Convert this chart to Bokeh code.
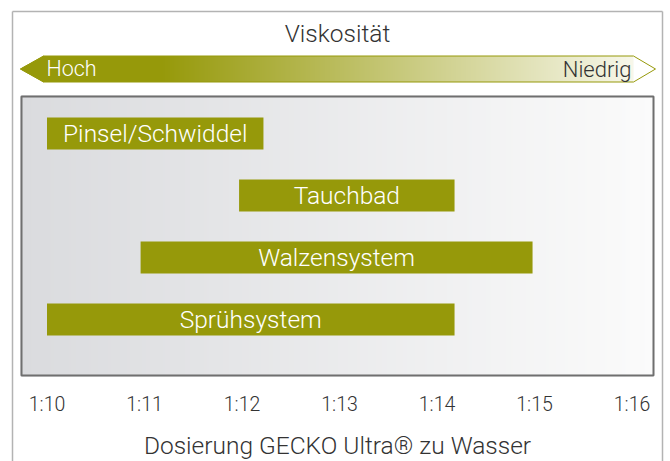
import numpy as np
from bokeh.plotting import figure
from bokeh.models import Range1d
from bokeh.core.properties import value
from bokeh.embed import file_html
from bokeh.resources import INLINE

# ---------------- data ----------------
methods = ["Pinsel/Schwiddel", "Tauchbad", "Walzensystem", "Sprühsystem"]
dose_from = [10.0, 11.97, 10.96, 10.0]
dose_to = [12.22, 14.18, 14.98, 14.18]
rows = [4, 3, 2, 1]
tick_values = [10, 11, 12, 13, 14, 15, 16]
tick_labels = ["1:10", "1:11", "1:12", "1:13", "1:14", "1:15", "1:16"]
scale_title = "Viskosität"
scale_high = "Hoch"
scale_low = "Niedrig"
axis_title = "Dosierung GECKO Ultra® zu Wasser"

# ---------------- style / layout ----------------
OLIVE = "#96990a"
OLIVE_RGB = np.array([150, 153, 10], dtype=float)
PALE_RGB = np.array([247, 247, 234], dtype=float)
FONT = value("'Roboto Light', Roboto")
TXT = "#333333"

W, H = 670, 461
KX = 97.5          # px per ratio unit
X10_PX = 46.5      # pixel of ratio 1:10
KY = 62.0          # px per row
ROW1_PX = 319.0    # pixel (from top) of row 1

X0 = 10 - X10_PX / KX
X1 = X0 + W / KX
Y1 = 1 + ROW1_PX / KY
Y0 = Y1 - H / KY


def cx(px):
    return X0 + px / KX


def cy(py):
    return Y1 - py / KY


p = figure(width=W, height=H, x_range=Range1d(X0, X1), y_range=Range1d(Y0, Y1),
           output_backend="svg", toolbar_location=None,
           x_axis_location=None, y_axis_location=None, min_border=0)
p.grid.visible = False
p.outline_line_color = None
p.background_fill_color = "white"
p.border_fill_color = "white"


def hgrad(c0, c1, n, t0=0.0):
    img = np.empty((1, n), dtype=np.uint32)
    v = img.view(dtype=np.uint8).reshape((1, n, 4))
    t = np.clip((np.linspace(0, 1, n) - t0) / (1 - t0), 0, 1)
    for k in range(3):
        v[0, :, k] = np.round(c0[k] + (c1[k] - c0[k]) * t).astype(np.uint8)
    v[0, :, 3] = 255
    return img


# outer frame
p.segment(x0=[cx(12), cx(12), cx(662)], y0=[cy(11), cy(11), cy(11)],
          x1=[cx(662), cx(12), cx(662)], y1=[cy(11), cy(H + 20), cy(H + 20)],
          line_color="#b3b3b3", line_width=1.5)

# plot area (gray gradient + dark border)
pa_l, pa_r, pa_t, pa_b = 20, 654, 95, 376
p.image_rgba(image=[hgrad(np.array([218, 219, 222.]), np.array([251, 251, 251.]), pa_r - pa_l)],
             x=cx(pa_l), y=cy(pa_b), dw=(pa_r - pa_l) / KX, dh=(pa_b - pa_t) / KY)
p.quad(left=cx(pa_l + 1), right=cx(pa_r - 1), top=cy(pa_t + 1), bottom=cy(pa_b - 1),
       fill_color=None, line_color="#6f6f6f", line_width=2)

# viscosity arrow
a_l, a_r, a_t, a_b = 43, 633, 55.5, 81.5
a_m = (a_t + a_b) / 2
tip_l, tip_r = 20, 655
p.image_rgba(image=[hgrad(OLIVE_RGB, PALE_RGB, a_r - a_l, t0=0.2)],
             x=cx(a_l), y=cy(a_b), dw=(a_r - a_l) / KX, dh=(a_b - a_t) / KY)
p.patch(x=[cx(tip_l), cx(a_l + 0.5), cx(a_l + 0.5)], y=[cy(a_m), cy(a_t), cy(a_b)],
        fill_color=OLIVE, line_color=OLIVE, line_width=1)
p.patch(x=[cx(tip_l), cx(a_l), cx(a_r), cx(tip_r), cx(a_r), cx(a_l), cx(tip_l)],
        y=[cy(a_m), cy(a_t), cy(a_t), cy(a_m), cy(a_b), cy(a_b), cy(a_m)],
        fill_color=None, line_color=OLIVE, line_width=1)

p.text(x=[cx(337)], y=[cy(32.5)], text=[scale_title], text_align="center",
       text_baseline="middle", text_font=FONT, text_font_size="24.5px", text_color=TXT)
p.text(x=[cx(46)], y=[cy(68)], text=[scale_high], text_align="left",
       text_baseline="middle", text_font=FONT, text_font_size="21.5px", text_color="white")
p.text(x=[cx(631)], y=[cy(68.5)], text=[scale_low], text_align="right",
       text_baseline="middle", text_font=FONT, text_font_size="22px", text_color=TXT)

# bars
p.hbar(y=rows, left=dose_from, right=dose_to, height=32 / KY,
       fill_color=OLIVE, line_color=None)
centers = [(a + b) / 2 for a, b in zip(dose_from, dose_to)]
p.text(x=centers, y=rows, text=methods, text_align="center", text_baseline="middle",
       text_color="white", text_font=FONT, text_font_size="24.5px")

# x tick labels and axis title
p.text(x=tick_values, y=[cy(403.5)] * len(tick_values), text=tick_labels,
       text_align="center", text_baseline="middle", text_font=FONT,
       text_font_size="19.5px", text_color=TXT)
p.text(x=[cx(337)], y=[cy(445)], text=[axis_title], text_align="center",
       text_baseline="middle", text_font=FONT, text_font_size="24.5px", text_color=TXT)

open("out.html", "w").write(file_html(p, INLINE))
